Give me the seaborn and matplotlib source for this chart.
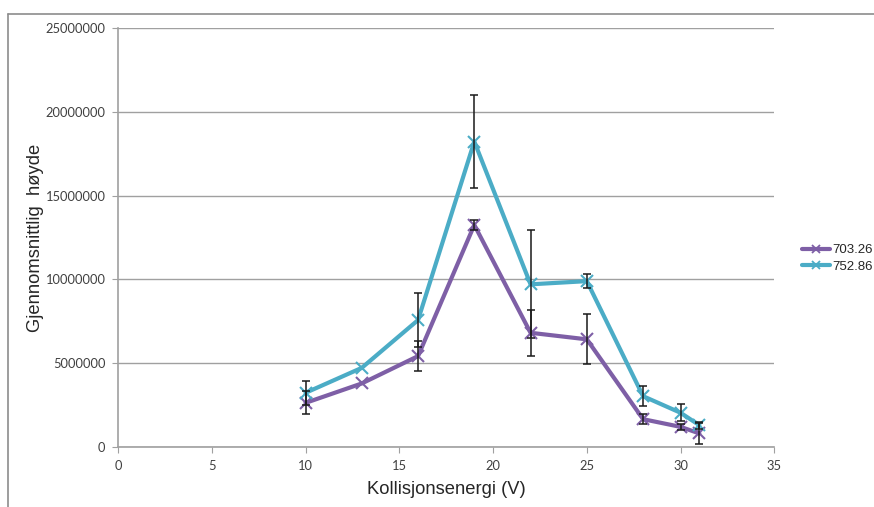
import numpy as np
import pandas as pd
import seaborn as sns
import matplotlib.pyplot as plt
from matplotlib.lines import Line2D

# === data ===
energy = [10, 13, 16, 19, 22, 25, 28, 30, 31]
series_names = ["703.26", "752.86"]
height_70326 = [2640000, 3800000, 5430000, 13250000, 6820000, 6430000, 1670000, 1210000, 820000]
err_70326 = [690000, 0, 900000, 300000, 1370000, 1500000, 300000, 200000, 650000]
height_75286 = [3240000, 4730000, 7580000, 18220000, 9710000, 9900000, 3040000, 2050000, 1310000]
err_75286 = [720000, 0, 1600000, 2750000, 3220000, 400000, 600000, 500000, 200000]

colors = ["#7E5FA6", "#4BACC6"]

df = pd.DataFrame({
    "energy": energy * 2,
    "height": height_70326 + height_75286,
    "serie": [series_names[0]] * len(energy) + [series_names[1]] * len(energy),
})

sns.set_style("white")
plt.rcParams['font.family'] = ['Liberation Sans', 'DejaVu Sans']

fig = plt.figure(figsize=(8.74, 5.07), dpi=100)
ax = fig.add_axes([0.135, 0.118, 0.751, 0.827])

sns.lineplot(data=df, x="energy", y="height", hue="serie", palette=colors,
             marker="x", markersize=8, markeredgewidth=1.5, linewidth=3,
             legend=False, ax=ax, zorder=3)
# seaborn paints marker edges white; give them the line colour
for line in ax.get_lines():
    line.set_markeredgecolor(line.get_color())

# error bars only where there is an error value
for h, e in [(height_70326, err_70326), (height_75286, err_75286)]:
    keep = [i for i in range(len(energy)) if e[i] > 0]
    ax.errorbar([energy[i] for i in keep], [h[i] for i in keep],
                yerr=[e[i] for i in keep], fmt="none", ecolor="#1a1a1a",
                elinewidth=1.1, capsize=3, capthick=1.1, zorder=4)

ax.set_xlim(0, 35)
ax.set_ylim(0, 25000000)
ax.set_xticks(np.arange(0, 36, 5))
ax.set_yticks(np.arange(0, 25000001, 5000000))
ax.set_yticklabels([f"{int(v)}" for v in np.arange(0, 25000001, 5000000)])
ax.yaxis.grid(True, color="#a0a0a0", linewidth=1.0)
ax.set_axisbelow(True)

for s in ["top", "right"]:
    ax.spines[s].set_visible(False)
for s in ["left", "bottom"]:
    ax.spines[s].set_color("#a0a0a0")
    ax.spines[s].set_linewidth(1.2)

ax.tick_params(axis="both", which="major", direction="out", length=4,
               color="#a0a0a0", labelsize=9.3, labelcolor="#404040",
               left=True, bottom=True, pad=5)
for lab in ax.get_xticklabels() + ax.get_yticklabels():
    lab.set_family("Lato")

ax.set_xlabel("Kollisjonsenergi (V)", fontsize=13.2, labelpad=7)
ax.set_ylabel("Gjennomsnittlig  høyde", fontsize=13.2, labelpad=1)

handles = [Line2D([], [], color=c, linewidth=3, marker="x", markersize=6,
                  markeredgewidth=1.3) for c in colors]
fig.legend(handles, series_names, loc="center left",
           bbox_to_anchor=(0.918, 0.49), frameon=False, fontsize=9.5,
           borderpad=0, borderaxespad=0, handlelength=2.1,
           handletextpad=0.15, labelspacing=0.35)

# outer frame lines (top and left)
fig.add_artist(Line2D([0.009, 1.0], [0.972, 0.972], transform=fig.transFigure,
                      color="#8c8c8c", linewidth=1.2))
fig.add_artist(Line2D([0.009, 0.009], [0.0, 0.972], transform=fig.transFigure,
                      color="#8c8c8c", linewidth=1.2))

fig.savefig("out.png", dpi=100)
